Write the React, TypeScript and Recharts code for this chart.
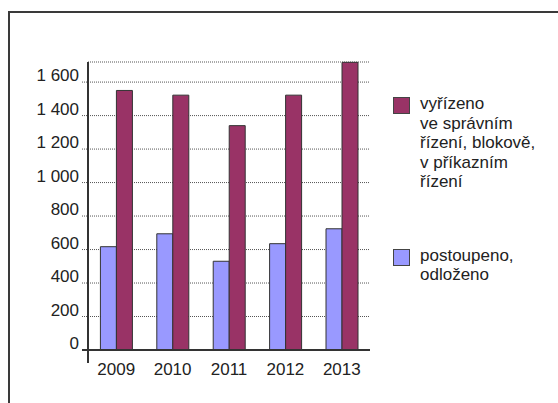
import React from "react";
import { Bar, BarChart, CartesianGrid, XAxis, YAxis } from "recharts";

const years = ["2009", "2010", "2011", "2012", "2013"];
const vyrizeno = [1550, 1522, 1340, 1522, 1718];
const postoupeno = [617, 694, 530, 635, 724];
const yTicks = [0, 200, 400, 600, 800, 1000, 1200, 1400, 1600];

const MAROON = "#993366";
const BLUE = "#9999ff";
const INK = "#333333";
const FONT = "'Liberation Sans', Arial, sans-serif";

const data = years.map((year, i) => ({
  year,
  vyrizeno: vyrizeno[i],
  postoupeno: postoupeno[i],
}));

const legendItems = [
  { color: MAROON, lines: ["vyřízeno", "ve správním", "řízení, blokově,", "v příkazním", "řízení"] },
  { color: BLUE, lines: ["postoupeno,", "odloženo"] },
];

const TICK_SIZE = 6;
const TICK_MARGIN = 3;

function YTick(props: any) {
  const { x, y, payload } = props;
  const axisX = x + TICK_MARGIN + TICK_SIZE;
  const label = String(payload.value).replace(/\B(?=(\d{3})+(?!\d))/g, "\u00a0");
  const isZero = payload.value === 0;
  return (
    <g>
      <line
        x1={axisX - TICK_SIZE}
        x2={axisX}
        y1={y}
        y2={y}
        stroke={isZero ? INK : "#555"}
        strokeWidth={isZero ? 2 : 1}
        strokeDasharray={isZero ? undefined : "1 1"}
      />
      {isZero && <line x1={axisX} x2={axisX} y1={y} y2={y + 13} stroke={INK} strokeWidth={2} />}
      <text x={x} y={y - 1} textAnchor="end" fill="#222" fontSize={17} fontFamily={FONT}>
        {label}
      </text>
    </g>
  );
}

function ChartLegend() {
  return (
    <div
      style={{
        position: "absolute",
        left: 393,
        top: 94,
        width: 165,
        fontFamily: FONT,
        fontSize: 17,
        lineHeight: "19.5px",
        color: "#222",
      }}
    >
      {legendItems.map((item, i) => (
        <div key={i} style={{ display: "flex", marginTop: i === 0 ? 0 : 54 }}>
          <div
            style={{
              width: 15,
              height: 15,
              background: item.color,
              border: "1px solid #444",
              marginTop: 3,
              marginRight: 10,
              flexShrink: 0,
            }}
          />
          <div>
            {item.lines.map((l) => (
              <div key={l}>{l}</div>
            ))}
          </div>
        </div>
      ))}
    </div>
  );
}

export default function App() {
  return (
    <div style={{ position: "absolute", left: 0, top: 0, width: 558, height: 403, background: "#fff", overflow: "hidden" }}>
      <div
        style={{
          position: "absolute",
          left: 8,
          top: 11,
          width: 600,
          height: 420,
          borderTop: "2px solid #3a3a3a",
          borderLeft: "2px solid #3a3a3a",
        }}
      />
      <BarChart
        width={558}
        height={403}
        data={data}
        margin={{ top: 62, right: 188, bottom: 23, left: 0 }}
        barCategoryGap="22%"
        barGap={0}
        style={{ position: "absolute", left: 0, top: 0 }}
      >
        <CartesianGrid vertical={false} stroke="#555" strokeDasharray="1 1" />
        <YAxis
          width={88}
          domain={[0, 1720]}
          ticks={yTicks}
          interval={0}
          tickSize={TICK_SIZE}
          tickMargin={TICK_MARGIN}
          tickLine={false}
          axisLine={{ stroke: INK, strokeWidth: 2 }}
          tick={<YTick />}
        />
        <XAxis
          dataKey="year"
          height={30}
          tickLine={false}
          tickSize={8}
          tickMargin={5}
          axisLine={{ stroke: INK, strokeWidth: 2 }}
          tick={{ fill: "#222", fontSize: 17, fontFamily: FONT }}
        />
        <Bar dataKey="postoupeno" fill={BLUE} stroke={INK} strokeWidth={1} isAnimationActive={false} />
        <Bar dataKey="vyrizeno" fill={MAROON} stroke={INK} strokeWidth={1} isAnimationActive={false} />
      </BarChart>
      <ChartLegend />
    </div>
  );
}
